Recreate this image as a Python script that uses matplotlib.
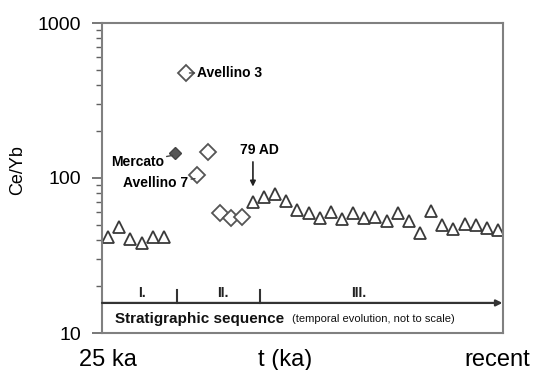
import matplotlib
matplotlib.use("Agg")
import matplotlib.pyplot as plt
from matplotlib.ticker import LogLocator, NullFormatter, FixedLocator, FixedFormatter

plt.rcParams['font.family'] = ['Liberation Sans', 'DejaVu Sans']

# === DATA ===
# group I triangles
tri1_x = [0, 1, 2, 3, 4, 5]
tri1_y = [41.8, 48.1, 40.2, 38.3, 41.8, 41.8]
# Mercato (filled diamond)
merc_x = [6]
merc_y = [145]
# open diamonds (Avellino 3, Avellino 7, unlabelled, group II)
dia_x = [7, 8, 9, 10, 11, 12]
dia_y = [476, 104, 147, 59.7, 55.0, 56.3]
# group III triangles
tri3_x = list(range(13, 36))
tri3_y = [70.3, 75.7, 78.5, 71.1, 62.2, 59.7, 55.4, 60.1, 54.2, 59.7, 55.0, 56.3,
          52.8, 59.7, 52.8, 44.4, 61.5, 49.7, 46.9, 50.5, 49.7, 47.4, 46.2]

ytick_vals = [10, 100, 1000]
ytick_labels = ["10", "100", "1000"]
period_labels = ["I.", "II.", "III."]
period_pos = [3.0, 10.3, 22.5]
boundaries = [6.2, 13.6]
xlabels = ["25 ka", "t (ka)", "recent"]

# === FIGURE ===
W, H = 541, 370
fig = plt.figure(figsize=(W / 100, H / 100), dpi=100)
ax = fig.add_axes([102 / W, 1 - 333 / H, 401 / W, 310 / H])

ax.set_yscale('log')
ax.set_ylim(10, 1000)
ax.set_xlim(-0.55, 35.45)

edge = '#3a3a3a'
ax.plot(tri1_x, tri1_y, '^', ms=9, mfc='white', mec=edge, mew=1.3, ls='none')
ax.plot(tri3_x, tri3_y, '^', ms=9, mfc='white', mec=edge, mew=1.3, ls='none')
ax.plot(dia_x, dia_y, 'D', ms=8, mfc='white', mec='#555555', mew=1.3, ls='none')
ax.plot(merc_x, merc_y, 'D', ms=6.5, mfc='#555555', mec='#444444', ls='none')

for s in ax.spines.values():
    s.set_color('#808080')
    s.set_linewidth(1.5)

ax.yaxis.set_major_locator(FixedLocator(ytick_vals))
ax.yaxis.set_major_formatter(FixedFormatter(ytick_labels))
ax.yaxis.set_minor_locator(LogLocator(base=10, subs=range(2, 10)))
ax.yaxis.set_minor_formatter(NullFormatter())
ax.tick_params(axis='y', which='major', length=7, width=1.2, color='#606060',
               labelsize=14, pad=8)
ax.tick_params(axis='y', which='minor', length=4, width=1.0, color='#606060')
ax.set_xticks([])

# stratigraphic sequence arrow
tr = ax.get_xaxis_transform()
ax.annotate('', xy=(35.4, 0.097), xytext=(-0.55, 0.097), xycoords=tr, textcoords=tr,
            arrowprops=dict(arrowstyle='-|>', color='#333333', lw=1.6,
                            mutation_scale=9, shrinkA=0, shrinkB=0))
for b in boundaries:
    ax.plot([b, b], [0.097, 0.14], color='#333333', lw=1.5, transform=tr)
for lab, p in zip(period_labels, period_pos):
    ax.text(p, 0.13, lab, transform=tr, ha='center', va='center',
            fontsize=10, fontweight='bold', color='#222222')
ax.text(0.6, 0.045, 'Stratigraphic sequence', transform=tr, ha='left', va='center',
        fontsize=11, fontweight='bold', color='#111111')
ax.text(16.5, 0.045, '(temporal evolution, not to scale)', transform=tr, ha='left',
        va='center', fontsize=8, color='#111111')

# annotations
line_kw = dict(arrowstyle='-', color='#444444', lw=1, shrinkA=0, shrinkB=0)
ax.annotate('Avellino 3', xy=(7.3, 476), xytext=(8.0, 476), ha='left', va='center',
            fontsize=10, fontweight='bold', arrowprops=line_kw)
ax.annotate('Mercato', xy=(5.8, 140), xytext=(5.0, 127), ha='right', va='center',
            fontsize=10, fontweight='bold', arrowprops=line_kw)
ax.annotate('Avellino 7', xy=(7.8, 99), xytext=(7.2, 93), ha='right', va='center',
            fontsize=10, fontweight='bold', arrowprops=line_kw)
ax.text(13.6, 152, '79 AD', ha='center', va='center', fontsize=10, fontweight='bold')
ax.annotate('', xy=(13.0, 88), xytext=(13.0, 127),
            arrowprops=dict(arrowstyle='-|>', color='#222222', lw=1.2, mutation_scale=8,
                            shrinkA=0, shrinkB=0))

fig.text(18 / W, 1 - 170 / H, 'Ce/Yb', rotation=90, ha='center', va='center', fontsize=13)
xlab_pos = [108, 285, 497]
for lab, px in zip(xlabels, xlab_pos):
    fig.text(px / W, 1 - 360 / H, lab, ha='center', va='center', fontsize=17)

fig.savefig('out.png', dpi=100)
